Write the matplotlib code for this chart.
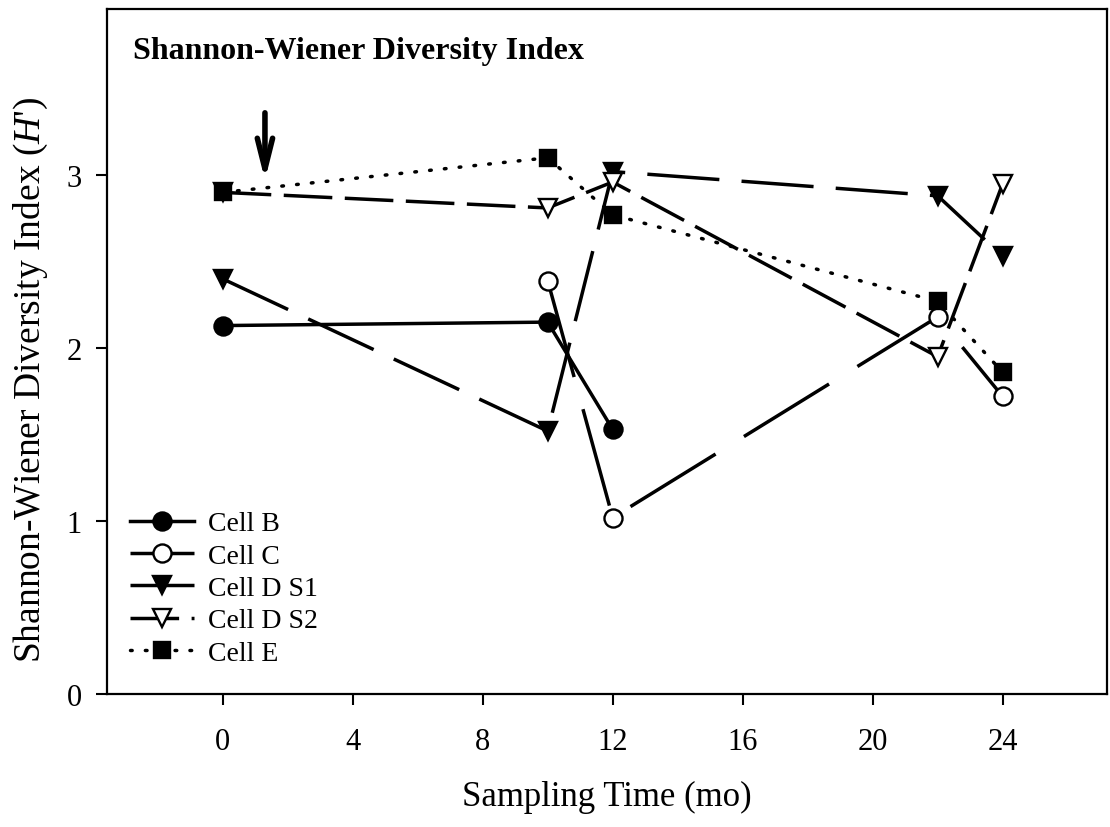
import matplotlib
matplotlib.use("Agg")
import matplotlib.pyplot as plt

# sampling months and Shannon-Wiener H' per cell
months_b = [0, 10, 12]
cell_b = [2.13, 2.15, 1.53]

months_c = [10, 12, 22, 24]
cell_c = [2.39, 1.02, 2.18, 1.72]

months_d1 = [0, 10, 12, 22, 24]
cell_d_s1 = [2.40, 1.52, 3.02, 2.88, 2.53]

months_d2 = [0, 10, 12, 22, 24]
cell_d_s2 = [2.90, 2.81, 2.96, 1.95, 2.95]

months_e = [0, 10, 12, 22, 24]
cell_e = [2.90, 3.10, 2.77, 2.27, 1.86]

x_ticks = [0, 4, 8, 12, 16, 20, 24]
y_ticks = [0, 1, 2, 3]

plt.rcParams["font.family"] = ["Liberation Serif", "DejaVu Serif"]
plt.rcParams["mathtext.fontset"] = "custom"
plt.rcParams["mathtext.rm"] = "Liberation Serif"
plt.rcParams["mathtext.it"] = "Liberation Serif:italic"
plt.rcParams["lines.scale_dashes"] = False

fig = plt.figure(figsize=(11.1, 8.28), dpi=100)
ax = fig.add_axes([0.0964, 0.1606, 0.9009, 0.8273])

lw = 2.5
mew = 1.7

ax.plot(months_b, cell_b, color="black", lw=lw, marker="o", ms=13,
        mfc="black", mec="black", mew=mew, label="Cell B", zorder=3)
ax.plot(months_c, cell_c, color="black", lw=lw, marker="o", ms=13,
        mfc="white", mec="black", mew=mew, dashes=(72, 24), label="Cell C", zorder=3)
ax.plot(months_d1, cell_d_s1, color="black", lw=lw, marker="v", ms=13,
        mfc="black", mec="black", mew=mew, dashes=(52, 16), label="Cell D S1", zorder=3)
ax.plot(months_d2, cell_d_s2, color="black", lw=lw, marker="v", ms=13,
        mfc="white", mec="black", mew=mew, dashes=(35, 9), label="Cell D S2", zorder=3)
ax.plot(months_e, cell_e, color="black", lw=lw, marker="s", ms=11,
        mfc="black", mec="black", mew=mew, dashes=(1.2, 9.5),
        dash_capstyle="round", label="Cell E", zorder=3)

# arrow marking the start of treatment
ax.annotate("", xy=(1.3, 2.97), xytext=(1.3, 3.36),
            arrowprops=dict(arrowstyle="->,head_length=2.2,head_width=0.55",
                            color="black", lw=4, shrinkA=0, shrinkB=0))

ax.set_xlim(-3.56, 27.21)
ax.set_ylim(0, 3.96)
ax.set_xticks(x_ticks)
ax.set_yticks(y_ticks)
ax.tick_params(direction="out", length=8, width=1.5, labelsize=22)
ax.tick_params(axis="x", pad=16)
ax.tick_params(axis="y", pad=10)
for sp in ax.spines.values():
    sp.set_linewidth(1.6)

ax.set_xlabel("Sampling Time (mo)", fontsize=25, labelpad=17)
ax.set_ylabel("Shannon-Wiener Diversity Index ($H$')", fontsize=27)
ax.yaxis.set_label_coords(-0.057, 0.46)

ax.text(0.026, 0.94, "Shannon-Wiener Diversity Index", transform=ax.transAxes,
        fontsize=23, fontweight="bold", va="center", ha="left")

leg = ax.legend(loc="lower left", bbox_to_anchor=(0.012, 0.025), frameon=False,
                fontsize=20, handlelength=2.3, handletextpad=0.5,
                labelspacing=0.25, borderaxespad=0)

fig.savefig("out.png", dpi=100)
